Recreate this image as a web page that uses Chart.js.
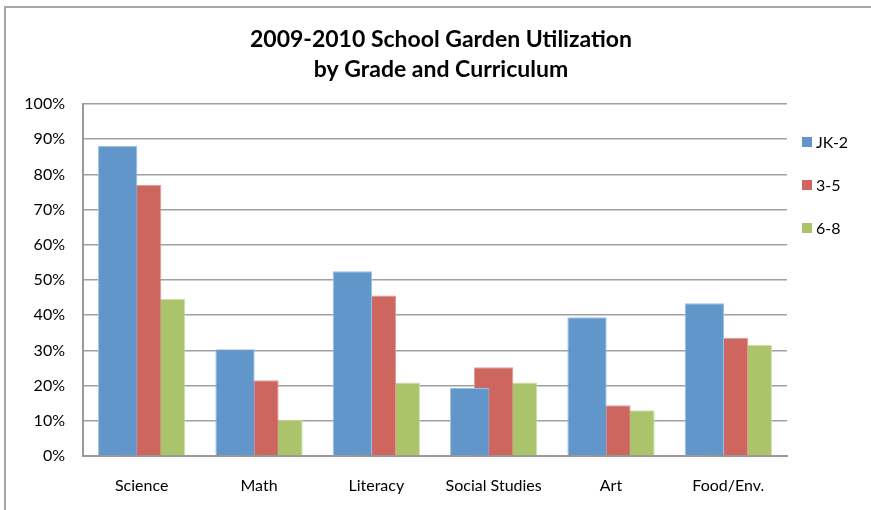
<!DOCTYPE html>
<html>
<head>
<meta charset="utf-8">
<script src="https://cdn.jsdelivr.net/npm/chart.js@4/dist/chart.umd.min.js"></script>
<style>
  html, body { margin: 0; padding: 0; background: #fff; }
  #wrap { position: relative; width: 871px; height: 510px; }
  #frame { position: absolute; left: 4px; top: 6px; width: 871px; height: 510px;
           border-left: 2px solid #a6a6a6; border-top: 2px solid #a6a6a6; box-sizing: border-box; }
  canvas { position: absolute; left: 0; top: 0; }
</style>
</head>
<body>
<div id="wrap">
  <div id="frame"></div>
  <canvas id="c" width="871" height="510"></canvas>
</div>
<script>
const titleLines = ["2009-2010 School Garden Utilization", "by Grade and Curriculum"];
const categories = ["Science", "Math", "Literacy", "Social Studies", "Art", "Food/Env."];
const seriesNames = ["JK-2", "3-5", "6-8"];
const jk2 = [88.1, 30.3, 52.5, 19.3, 39.4, 43.4];
const g35 = [77.0, 21.5, 45.6, 25.2, 14.4, 33.6];
const g68 = [44.6, 10.3, 20.9, 20.9, 13.0, 31.5];
const yTicks = [0, 10, 20, 30, 40, 50, 60, 70, 80, 90, 100];

const fills = ["#6096ca", "#cd665f", "#abc46b"];
const edges = ["#9cc0e4", "#e29a95", "#cfe0a6"];
const FONT = "Lato, 'Open Sans', sans-serif";

const overlayPlugin = {
  id: "overlay",
  afterDraw(chart) {
    const ctx = chart.ctx;
    ctx.save();
    // title
    ctx.fillStyle = "#000";
    ctx.font = "bold 23px " + FONT;
    ctx.textAlign = "center";
    ctx.textBaseline = "middle";
    ctx.fillText(titleLines[0], 441, 40);
    ctx.fillText(titleLines[1], 441, 70);
    // legend
    ctx.font = "16px " + FONT;
    ctx.textAlign = "left";
    chart.data.datasets.forEach((ds, i) => {
      const y = 142 + i * 43;
      ctx.fillStyle = ds.backgroundColor;
      ctx.fillRect(802, y - 5, 10, 10);
      ctx.fillStyle = "#000";
      ctx.fillText(ds.label, 816, y + 1);
    });
    ctx.restore();
  }
};

new Chart(document.getElementById("c"), {
  type: "bar",
  data: {
    labels: categories,
    datasets: [jk2, g35, g68].map((d, i) => ({
      label: seriesNames[i],
      data: d,
      backgroundColor: fills[i],
      borderColor: edges[i],
      borderWidth: 1,
      categoryPercentage: 0.613,
      barPercentage: 1.64
    }))
  },
  options: {
    responsive: false,
    animation: false,
    layout: { padding: { top: 104, left: 0, right: 84, bottom: 0 } },
    plugins: { legend: { display: false }, title: { display: false }, tooltip: { enabled: false } },
    scales: {
      x: {
        grid: { display: false, drawTicks: false },
        border: { display: true, color: "#999", width: 2 },
        ticks: { color: "#000", font: { family: FONT, size: 16 }, padding: 20, maxRotation: 0 },
        afterFit(s) { s.height = 54; }
      },
      y: {
        min: 0, max: 100,
        afterBuildTicks(s) { s.ticks = yTicks.map(v => ({ value: v })); },
        grid: { color: "#a0a0a0", lineWidth: 1.5, drawTicks: false },
        border: { display: true, color: "#999", width: 2 },
        ticks: { color: "#000", font: { family: FONT, size: 16 }, padding: 18,
                 callback: v => v + "%" },
        afterFit(s) { s.width = 83; }
      }
    }
  },
  plugins: [overlayPlugin]
});
</script>
</body>
</html>
